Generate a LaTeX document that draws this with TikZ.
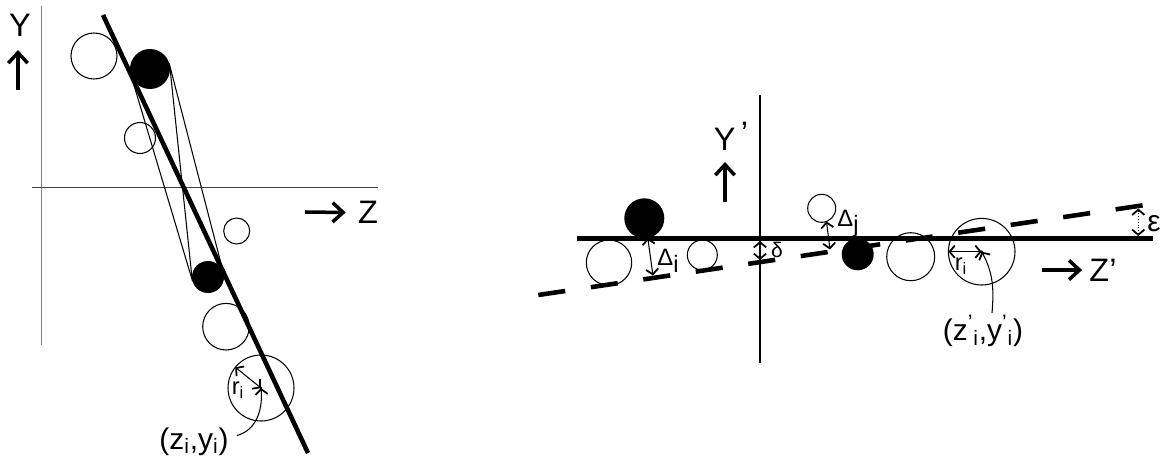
\documentclass[tikz,border=0pt]{standalone}
\usepackage{fontspec}
\setmainfont{Liberation Sans}
\usetikzlibrary{arrows.meta,calc}
\newdimen\px
\px=0.02cm
\tikzset{
    trkcircle/.style={draw, circle, line width=0.6pt, inner sep=0pt, outer sep=0pt},
    trkdisk/.style={circle, fill=black, inner sep=0pt, outer sep=0pt},
    trkfit/.style={line width=2.6pt},
    trkdash/.style={line width=2.6pt, dash pattern=on 15.5pt off 14.7pt},
    trkaxis/.style={line width=0.6pt},
    trktangent/.style={line width=0.6pt},
    trkarrow/.style={line width=2pt, -{Straight Barb[length=6pt,width=11pt]}},
    trkdim/.style={line width=0.6pt, {Straight Barb[length=3pt,width=7pt,line width=1pt]}-{Straight Barb[length=3pt,width=7pt,line width=1pt]}},
    trkdimdot/.style={trkdim, densely dotted},
    trkpoint/.style={line width=0.6pt, -{Straight Barb[length=3pt,width=7pt,line width=1pt]}},
    trklabel/.style={font=\fontsize{18.5}{20}\selectfont, inner sep=0pt},
    trkcoord/.style={font=\fontsize{17}{18}\selectfont, inner sep=0pt},
    trksmall/.style={font=\fontsize{13.5}{15}\selectfont, inner sep=0pt},
    trktiny/.style={font=\fontsize{12}{13}\selectfont, inner sep=0pt}
}

\begin{document}
\begin{tikzpicture}[x=\px, y=\px]
    \useasboundingbox (0,0) rectangle (1163,-456);

    % left panel: spheres and fitted line in (Z,Y)
    \coordinate (yAxTop) at (41.7,-6);
    \coordinate (yAxBot) at (41.7,-345);
    \coordinate (zAxL) at (32,-187.7);
    \coordinate (zAxR) at (378,-187.7);
    \draw[trkaxis, black!50] (yAxTop) -- (yAxBot);
    \draw[trkaxis, black!75] (zAxL) -- (zAxR);

    \node[trklabel] (yLab) at (20,-25) {Y};
    \coordinate (yArrFrom) at (18,-90);
    \coordinate (yArrTo) at (18,-50);
    \draw[trkarrow] (yArrFrom) -- (yArrTo);
    \node[trklabel] (zLab) at (368,-212.5) {Z};
    \coordinate (zArrFrom) at (305,-212);
    \draw[trkarrow] (zArrFrom) -- ([xshift=-12\px]zLab.west);

    \node[trkcircle, minimum size=46\px] (opL1) at (94,-56) {};
    \node[trkdisk, minimum size=40\px] (blL1) at (150,-69) {};
    \node[trkcircle, minimum size=31\px] (opL2) at (140,-138) {};
    \node[trkcircle, minimum size=26\px] (opL3) at (236.7,-231) {};
    \node[trkdisk, minimum size=32\px] (blL2) at (208,-277) {};
    \node[trkcircle, minimum size=46.6\px] (opL4) at (226,-326.7) {};
    \node[trkcircle, minimum size=66\px] (bigL) at (261,-388) {};

    \draw[trktangent] (blL1.16) -- (blL2.16);
    \draw[trktangent] (blL1.196) -- (blL2.196);
    \draw[trktangent] (blL1.6) -- (blL2.186);

    \coordinate (fitTop) at (103,-15);
    \coordinate (fitBot) at (308,-453);
    \draw[trkfit] (fitTop) -- (fitBot);

    \fill (bigL.center) circle (1.3);
    \draw[trkdim] (bigL.center) -- (bigL.141);
    \node[trksmall] (riL) at (238,-390) {r\textsubscript{i}};
    \node[trkcoord] (zyL) at (194,-441.5) {(z\textsubscript{i},y\textsubscript{i})};
    \draw[trkpoint] ([xshift=8\px,yshift=6\px]zyL.east) to[out=15, in=-85] (bigL.center);

    % right panel: rotated frame (Z',Y')
    \coordinate (ypAxTop) at (760,-95);
    \coordinate (ypAxBot) at (760,-363);
    \draw[trkaxis] (ypAxTop) -- (ypAxBot);

    \node[trklabel] (ypLab) at (731,-136) {Y\,\raisebox{0.35ex}{’}};
    \coordinate (ypArrFrom) at (725,-202);
    \coordinate (ypArrTo) at (725,-162);
    \draw[trkarrow] (ypArrFrom) -- (ypArrTo);
    \node[trklabel] (zpLab) at (1103,-270) {Z’};
    \coordinate (zpArrFrom) at (1041.7,-270);
    \draw[trkarrow] (zpArrFrom) -- ([xshift=-7\px]zpLab.west);

    \node[trkdisk, minimum size=40\px] (blR1) at (644.3,-218.3) {};
    \node[trkcircle, minimum size=45.4\px] (opR1) at (609,-262.7) {};
    \node[trkcircle, minimum size=30\px] (opR2) at (702.3,-255) {};
    \node[trkcircle, minimum size=28\px] (opR3) at (821.7,-208.3) {};
    \node[trkdisk, minimum size=32\px] (blR2) at (857.7,-254.3) {};
    \node[trkcircle, minimum size=48\px] (opR4) at (910.7,-256.7) {};
    \node[trkcircle, minimum size=66.6\px] (bigR) at (981.7,-251.7) {};

    \coordinate (lineL) at (576.7,-238.3);
    \coordinate (lineR) at (1153.3,-238.3);
    \draw[trkfit] (lineL) -- (lineR);
    \coordinate (dashL) at (538.3,-295);
    \coordinate (dashR) at (1145,-205);
    \draw[trkdash] (dashL) -- (dashR);

    % offsets
    \coordinate (delTop) at (760,-241);
    \coordinate (delBot) at (760,-260);
    \draw[trkdimdot] (delTop) -- (delBot);
    \node[trktiny] (delLab) at (777,-250) {δ};

    \coordinate (diBot) at (653,-275.5);
    \draw[trkdim] (blR1.-80) -- (diBot);
    \node[trksmall] (diLab) at (668,-261) {Δ\raisebox{-0.55ex}{i}};

    \coordinate (djBot) at (830,-249.5);
    \draw[trkdim] (opR3.-70) -- (djBot);
    \node[trksmall] (djLab) at (848,-224) {Δ\raisebox{-0.45ex}{j}};

    \coordinate (epsTop) at (1138.3,-208.5);
    \coordinate (epsBot) at (1138.3,-236);
    \draw[trkdimdot] (epsTop) -- (epsBot);
    \node[font=\fontsize{17}{18}\selectfont, inner sep=0pt] (epsLab) at (1154,-224) {ε};

    \fill (bigR.center) circle (1.3);
    \draw[trkdim] (bigR.center) -- (bigR.180);
    \node[trksmall] (riR) at (961,-266) {r\textsubscript{i}};
    \node[trkcoord] (zyR) at (983,-331) {(z\textsuperscript{’}\textsubscript{i},y\textsuperscript{’}\textsubscript{i})};
    \draw[trkpoint] ([xshift=9\px,yshift=2\px]zyR.north) to[out=85, in=-62] (bigR.center);
\end{tikzpicture}
\end{document}
